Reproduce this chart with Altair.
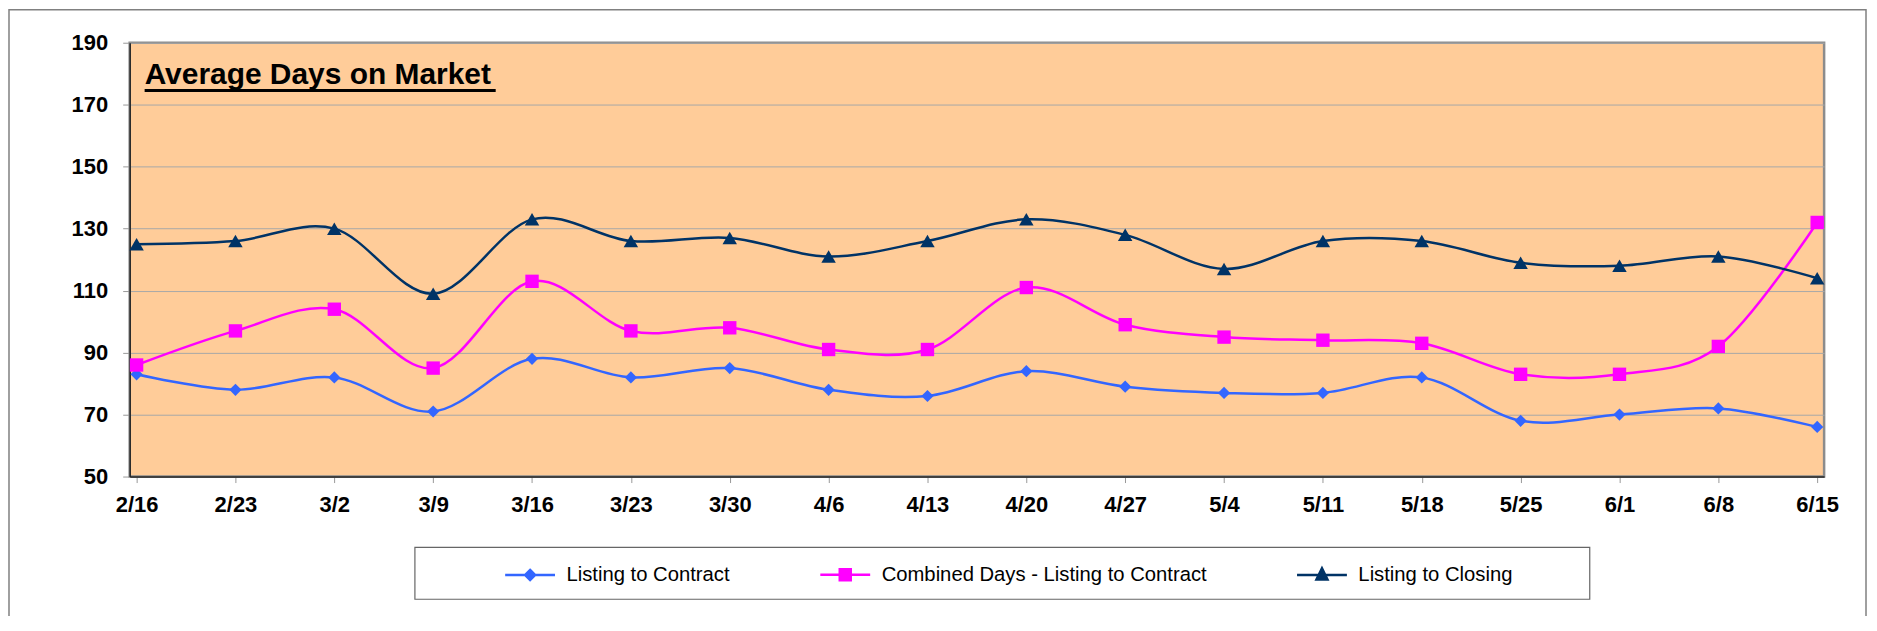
import altair as alt
import pandas as pd

weeks = ["2/16", "2/23", "3/2", "3/9", "3/16", "3/23", "3/30", "4/6", "4/13",
         "4/20", "4/27", "5/4", "5/11", "5/18", "5/25", "6/1", "6/8", "6/15"]
series = ["Listing to Contract", "Combined Days - Listing to Contract", "Listing to Closing"]
listing_to_contract = [83, 78, 82, 71, 88, 82, 85, 78, 76, 84, 79, 77, 77, 82, 68, 70, 72, 66]
combined_days = [86, 97, 104, 85, 113, 97, 98, 91, 91, 111, 99, 95, 94, 93, 83, 83, 92, 132]
listing_to_closing = [125, 126, 130, 109, 133, 126, 127, 121, 126, 133, 128, 117, 126, 126, 119, 118, 121, 114]
y_ticks = [50, 70, 90, 110, 130, 150, 170, 190]
chart_title = "Average Days on Market"

colors = ["#3366FF", "#FF00FF", "#003366"]
marker_shapes = ["diamond", "square", "triangle-up"]
marker_sizes = [150, 210, 200]
legend_paths = [
    "M-2.5,0H2.5M0,-0.5L0.5,0L0,0.5L-0.5,0Z",
    "M-2.5,0H2.5M-0.55,-0.55H0.55V0.55H-0.55Z",
    "M-2.5,0H2.5M0,-0.65L0.55,0.45L-0.55,0.45Z",
]

rows = []
for name, vals in zip(series, [listing_to_contract, combined_days, listing_to_closing]):
    for w, v in zip(weeks, vals):
        rows.append({"week": w, "value": v, "series": name})
df = pd.DataFrame(rows)

FONT = "Liberation Sans, Arial, sans-serif"

x_enc = alt.X("week:N", sort=weeks,
              scale=alt.Scale(type="point", padding=0.07),
              axis=alt.Axis(title=None, labelAngle=0, labelFont=FONT, labelFontSize=22,
                            labelFontWeight="bold", labelColor="#000000", labelPadding=12,
                            tickSize=6, tickColor="#999999", domainColor="#222222",
                            domainWidth=1.5, grid=False, labelOverlap=False))
y_enc = alt.Y("value:Q",
              scale=alt.Scale(domain=[50, 190], nice=False, zero=False),
              axis=alt.Axis(title=None, values=y_ticks, labelFont=FONT, labelFontSize=22,
                            labelFontWeight="bold", labelColor="#000000", labelPadding=15,
                            tickSize=7, tickColor="#999999", domainColor="#222222",
                            domainWidth=1.5, grid=True, gridColor="#a8a8a8", gridWidth=1))

color_scale = alt.Scale(domain=series, range=colors)

base = alt.Chart(df).encode(x=x_enc, y=y_enc)

lines = base.mark_line(interpolate="cardinal", strokeWidth=2.5).encode(
    color=alt.Color("series:N", scale=color_scale, legend=None),
    detail="series:N",
)

points = base.mark_point(filled=True, opacity=1).encode(
    color=alt.Color("series:N", scale=color_scale, legend=None),
    shape=alt.Shape("series:N", scale=alt.Scale(domain=series, range=marker_shapes), legend=None),
    size=alt.Size("series:N", scale=alt.Scale(domain=series, range=marker_sizes), legend=None),
)

leg = alt.Legend(orient="none", legendX=375, legendY=522, direction="horizontal", title=None,
                 symbolSize=400, symbolStrokeWidth=2.5, symbolOffset=15, labelOffset=25,
                 labelFont=FONT, labelFontSize=20.3, labelColor="#000000", labelLimit=1000,
                 columnPadding=85, padding=0)

legend_layer = base.mark_point(size=400, strokeWidth=2.5, opacity=1).transform_filter(
    "false"
).encode(
    fill=alt.Fill("series:N", scale=alt.Scale(domain=series, range=colors), legend=leg),
    stroke=alt.Stroke("series:N", scale=alt.Scale(domain=series, range=colors), legend=leg),
    shape=alt.Shape("series:N", scale=alt.Scale(domain=series, range=legend_paths), legend=leg),
)

one = pd.DataFrame({"t": [chart_title]})

title_text = alt.Chart(one).mark_text(
    align="left", baseline="alphabetic", font=FONT, fontSize=30, fontWeight="bold", color="#000000"
).encode(text="t:N", x=alt.value(15), y=alt.value(41))

underline = alt.Chart(one).mark_rule(color="#000000", strokeWidth=3).encode(
    x=alt.value(15), x2=alt.value(367), y=alt.value(48)
)

legend_box = alt.Chart(one).mark_rect(fill="#ffffff", fillOpacity=0, stroke="#666666", strokeWidth=1.2).encode(
    x=alt.value(286), x2=alt.value(1464), y=alt.value(506), y2=alt.value(558)
)

outer_frame = alt.Chart(one).mark_rect(fillOpacity=0, stroke="#808080", strokeWidth=1.5).encode(
    x=alt.value(-121), x2=alt.value(1741), y=alt.value(-33), y2=alt.value(700)
)

chart = alt.layer(
    outer_frame, legend_box, lines, points, legend_layer, title_text, underline
).resolve_scale(
    shape="independent", color="independent", size="independent",
    fill="independent", stroke="independent"
).resolve_legend(
    shape="independent", color="independent", size="independent",
    fill="independent", stroke="independent"
).properties(
    width=1699, height=435,
    padding={"left": 122, "top": 34, "right": 45, "bottom": 139},
    autosize=alt.AutoSizeParams(type="none"),
).configure_view(
    fill="#FFCC99", stroke="#8c8c8c", strokeWidth=2.5
)

chart.save("out.html", embed_options={"renderer": "svg", "actions": False})
